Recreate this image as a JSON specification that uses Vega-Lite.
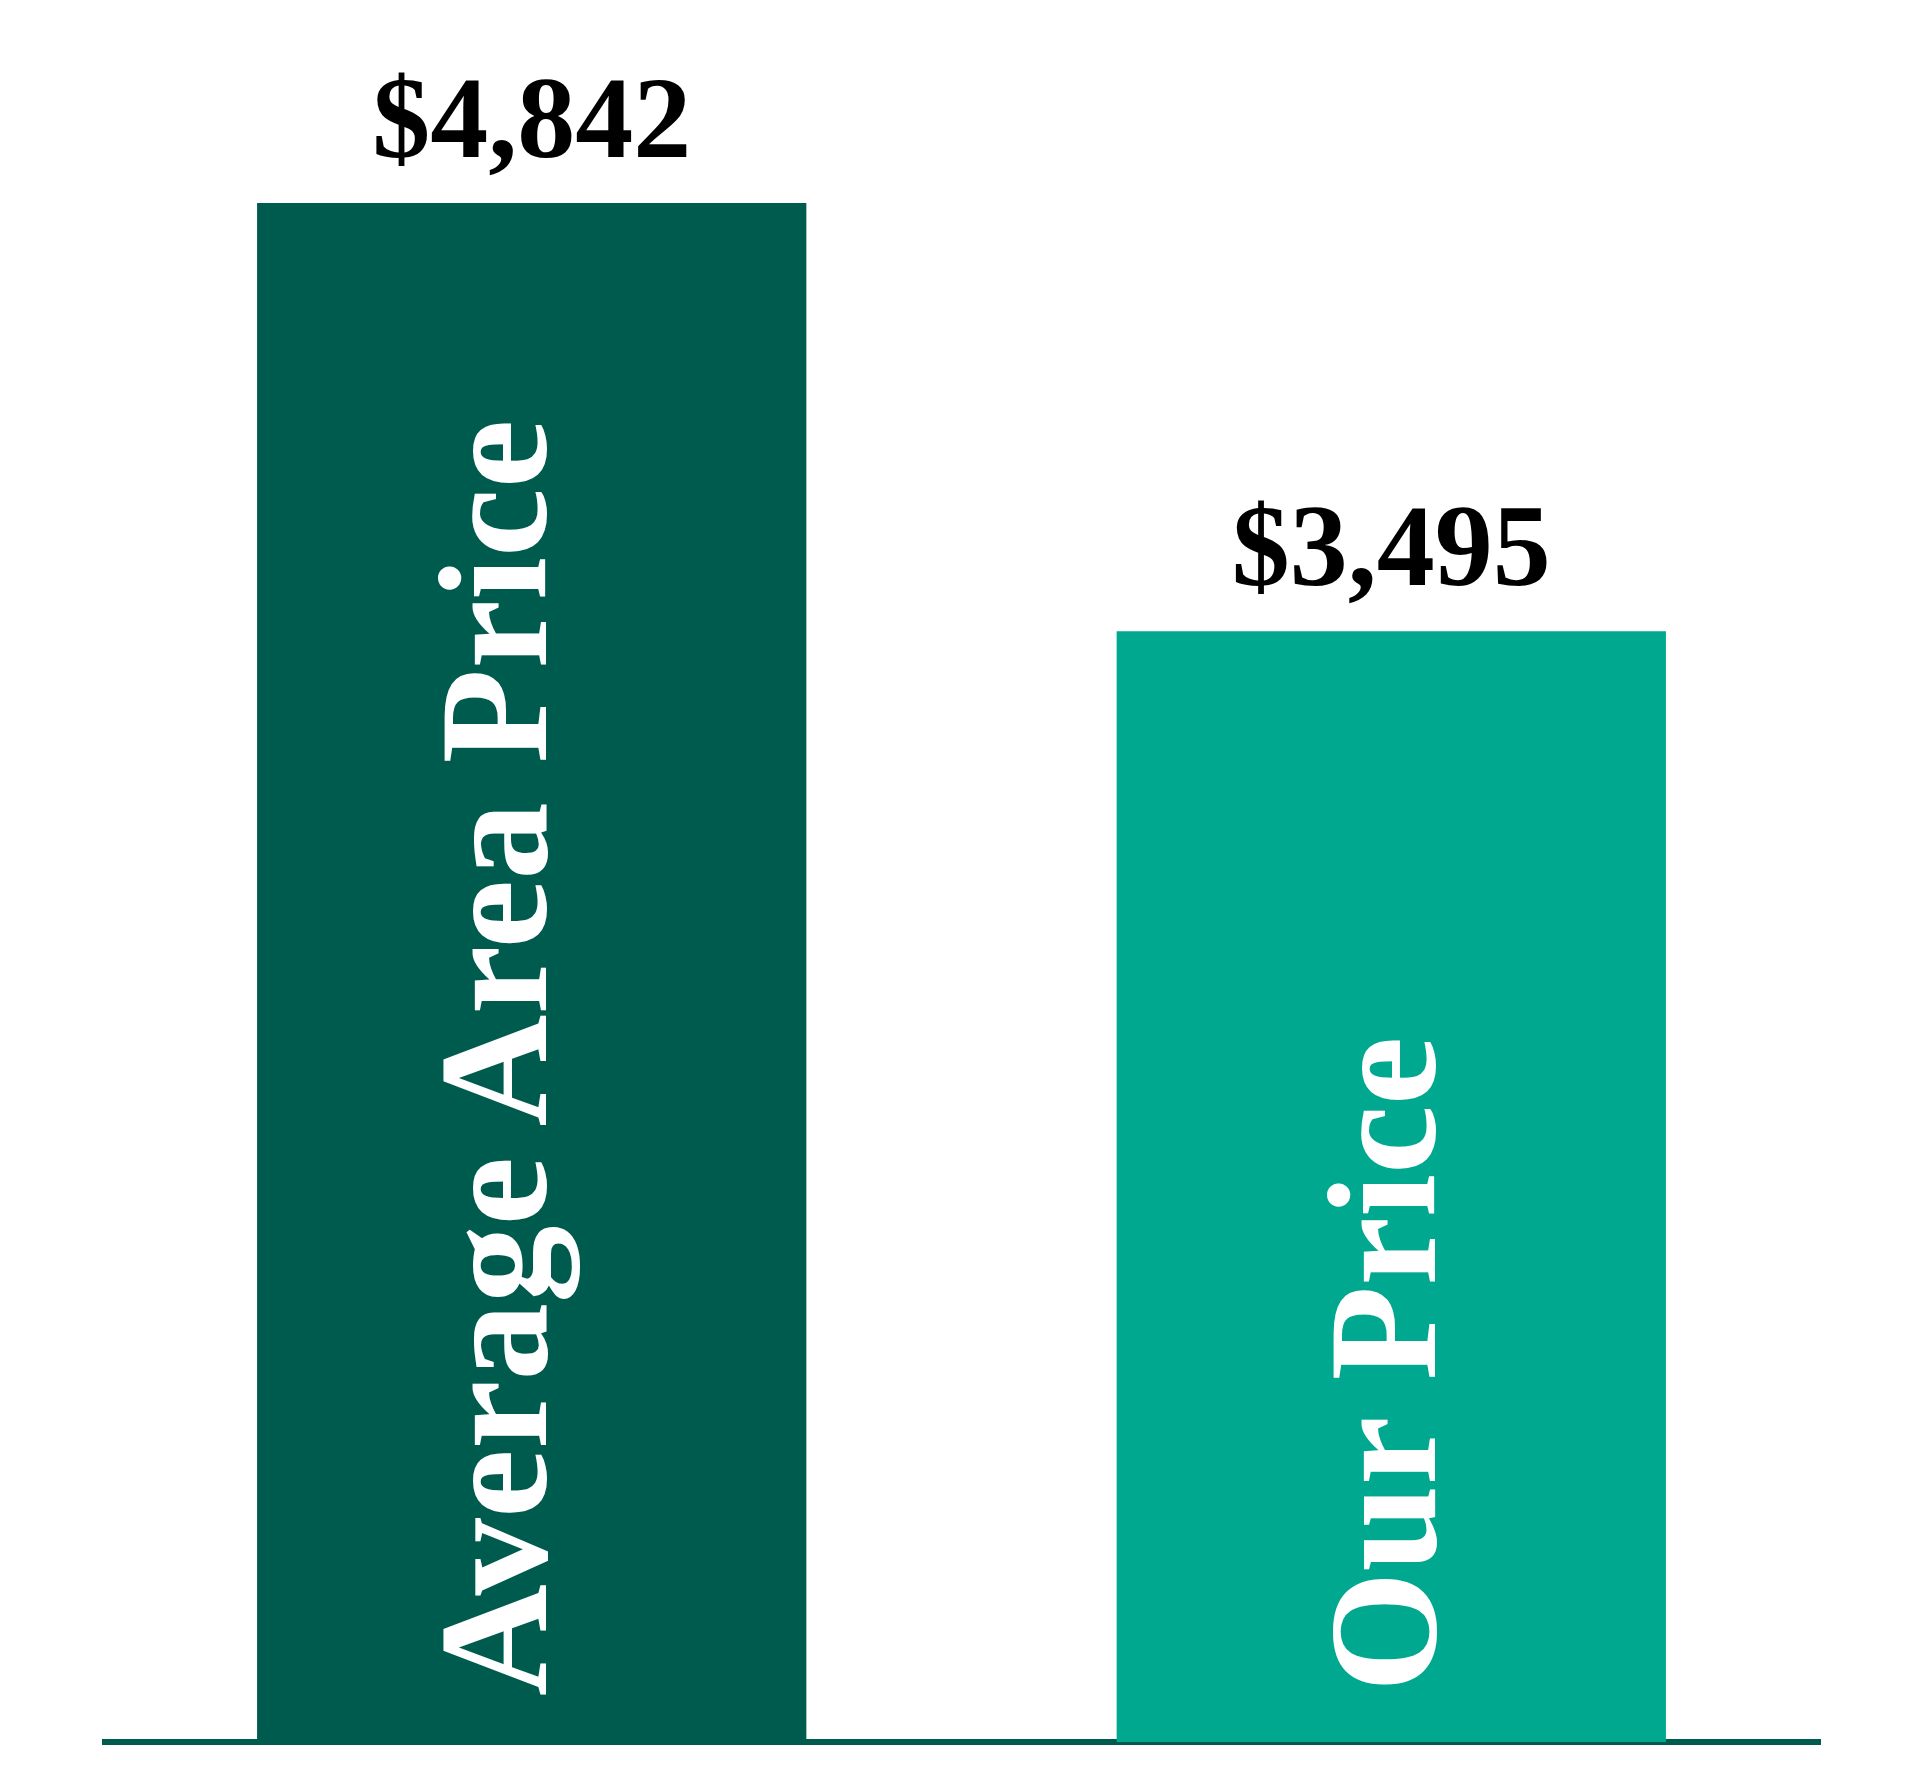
{
  "$schema": "https://vega.github.io/schema/vega-lite/v6.json",
  "autosize": "none",
  "padding": {"left": 102, "top": 0, "right": 99, "bottom": 50},
  "width": 1719,
  "height": 1742,
  "background": "#ffffff",
  "config": {"view": {"stroke": null}},
  "data": {
    "values": [
      {"category": "Average Area Price", "price": 4842, "label": "$4,842"},
      {"category": "Our Price", "price": 3495, "label": "$3,495"}
    ]
  },
  "layer": [
    {
      "mark": {"type": "rule", "color": "#005B4F", "strokeWidth": 6},
      "encoding": {"y": {"datum": 0, "type": "quantitative", "scale": {"domain": [0, 5481], "nice": false, "zero": true}, "axis": null}}
    },
    {
      "mark": {"type": "bar"},
      "encoding": {
        "x": {
          "field": "category",
          "type": "nominal",
          "sort": null,
          "axis": null,
          "scale": {"paddingInner": 0.361, "paddingOuter": 0.1804}
        },
        "y": {
          "field": "price",
          "type": "quantitative",
          "axis": null,
          "scale": {"domain": [0, 5481], "nice": false, "zero": true}
        },
        "color": {
          "field": "category",
          "type": "nominal",
          "sort": null,
          "legend": null,
          "scale": {"domain": ["Average Area Price", "Our Price"], "range": ["#005B4F", "#00A88F"]}
        }
      }
    },
    {
      "mark": {
        "type": "text",
        "font": "Liberation Serif",
        "fontWeight": "bold",
        "fontSize": 116,
        "color": "#000000",
        "align": "center",
        "baseline": "alphabetic",
        "dy": -46
      },
      "encoding": {
        "x": {"field": "category", "type": "nominal", "sort": null},
        "y": {"field": "price", "type": "quantitative"},
        "text": {"field": "label"}
      }
    },
    {
      "transform": [{"filter": "datum.category === 'Average Area Price'"}],
      "mark": {
        "type": "text",
        "font": "Liberation Serif",
        "fontWeight": "bold",
        "fontSize": 155,
        "color": "#ffffff",
        "angle": 270,
        "align": "left",
        "baseline": "alphabetic",
        "dx": 46,
        "dy": 14
      },
      "encoding": {
        "x": {"field": "category", "type": "nominal", "sort": null},
        "y": {"datum": 0, "type": "quantitative"},
        "text": {"field": "category"}
      }
    },
    {
      "transform": [{"filter": "datum.category === 'Our Price'"}],
      "mark": {
        "type": "text",
        "font": "Liberation Serif",
        "fontWeight": "bold",
        "fontSize": 155,
        "color": "#ffffff",
        "angle": 270,
        "align": "left",
        "baseline": "alphabetic",
        "dx": 50,
        "dy": 44
      },
      "encoding": {
        "x": {"field": "category", "type": "nominal", "sort": null},
        "y": {"datum": 0, "type": "quantitative"},
        "text": {"field": "category"}
      }
    }
  ]
}
